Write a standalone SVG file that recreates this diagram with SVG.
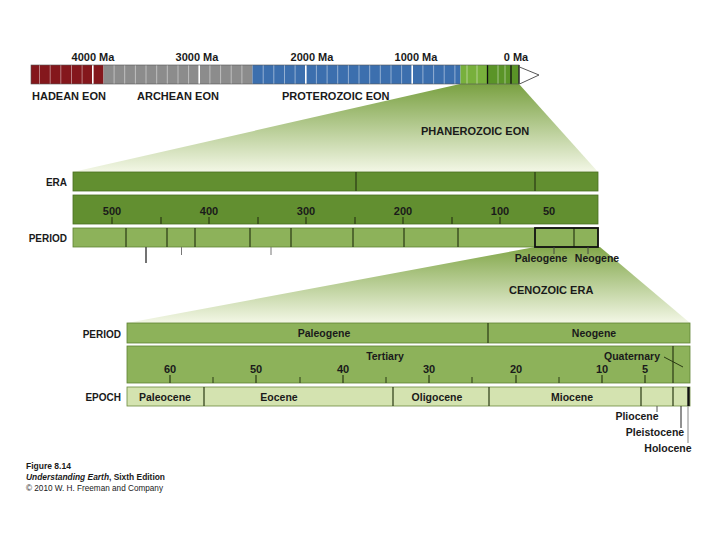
<svg xmlns="http://www.w3.org/2000/svg" width="720" height="540" viewBox="0 0 720 540">
<defs>
<linearGradient id="fun1" x1="0" y1="0" x2="0" y2="1">
<stop offset="0" stop-color="#7aa142"/>
<stop offset="1" stop-color="#f3f7e6"/>
</linearGradient>
<linearGradient id="fun2" x1="0" y1="0" x2="0" y2="1">
<stop offset="0" stop-color="#82a74a"/>
<stop offset="1" stop-color="#f3f7e6"/>
</linearGradient>
<style>
text{font-family:"Liberation Sans",Arial,sans-serif;font-weight:bold;fill:#1a1a1a}
.t11{font-size:11px}
.t10{font-size:10px}
.t105{font-size:10.5px}
.mid{text-anchor:middle}
.end{text-anchor:end}
.dk{fill:#628f30;stroke:#4a6e22;stroke-width:0.8}
.md{fill:#8db25a;stroke:#5f8233;stroke-width:0.8}
.lt{fill:#d4e3b0;stroke:#6c8a3e;stroke-width:0.8}
.div{stroke:#2a3a14;stroke-width:1.2}
.tick{stroke:#2a3a14;stroke-width:1.2}
.cap{font-size:8.5px;font-weight:normal}
</style>
</defs>
<rect width="720" height="540" fill="#ffffff"/>

<g id="funnels">
<polygon points="460,84 519,84 598,172 73,172" fill="url(#fun1)"/>
<polygon points="535,247 600,247 690,323 127,323" fill="url(#fun2)"/>
</g>

<g id="timeline-bar">
<rect x="31" y="65" width="72.5" height="19" fill="#84171c"/>
<rect x="103.5" y="65" width="149" height="19" fill="#8c8c8c"/>
<rect x="252.5" y="65" width="208" height="19" fill="#3c6fae"/>
<rect x="460.5" y="65" width="27" height="19" fill="#78b03c"/>
<rect x="487.5" y="65" width="31.5" height="19" fill="#5a9427"/>
<path d="M39.5 65V84M50.2 65V84M60.8 65V84M71.5 65V84M82.1 65V84M114.1 65V84M124.7 65V84M135.4 65V84M146 65V84M156.7 65V84M167.3 65V84M178 65V84M188.6 65V84M209.9 65V84M220.6 65V84M231.2 65V84M241.9 65V84M263.2 65V84M273.8 65V84M284.5 65V84M295.1 65V84M316.4 65V84M327.1 65V84M337.7 65V84M348.4 65V84M359 65V84M369.7 65V84M380.3 65V84M391 65V84M401.6 65V84M422.9 65V84M433.6 65V84M444.2 65V84M454.9 65V84M467 65V84M477 65V84M498 65V84M505 65V84" stroke="#ffffff" stroke-opacity="0.45" stroke-width="1"/>
<path d="M92.8 65V84M199.2 65V84M305.8 65V84M412.2 65V84" stroke="#ffffff" stroke-width="1.6"/>
<path d="M487.5 65V84M511 65V84M519 65V84" stroke="#111111" stroke-width="1.3"/>
<rect x="31" y="65" width="488" height="19" fill="none" stroke="#555555" stroke-width="0.6"/>
<polyline points="519.5,67 539,75 519.5,84" fill="none" stroke="#444444" stroke-width="0.9"/>
<text class="t11 mid" x="93" y="61">4000 Ma</text>
<text class="t11 mid" x="197" y="61">3000 Ma</text>
<text class="t11 mid" x="312" y="61">2000 Ma</text>
<text class="t11 mid" x="416" y="61">1000 Ma</text>
<text class="t11 mid" x="516" y="61">0 Ma</text>
<text class="t11" x="32" y="100">HADEAN EON</text>
<text class="t11" x="137" y="100">ARCHEAN EON</text>
<text class="t11" x="282" y="100">PROTEROZOIC EON</text>
<text class="t11" x="421" y="135">PHANEROZOIC EON</text>
</g>

<g id="phanerozoic">
<text class="t10 end" x="67" y="186">ERA</text>
<rect class="dk" x="73" y="172" width="525" height="19"/>
<path class="div" d="M356 172V191M535 172V191"/>
<rect class="dk" x="73" y="195" width="525" height="29" fill="#6a9834"/>
<text class="t11 mid" x="112" y="215">500</text>
<text class="t11 mid" x="209" y="215">400</text>
<text class="t11 mid" x="306" y="215">300</text>
<text class="t11 mid" x="403" y="215">200</text>
<text class="t11 mid" x="500" y="215">100</text>
<text class="t11 mid" x="549" y="215">50</text>
<path class="tick" d="M112 217V224M161 217V224M209 217V224M258 217V224M306 217V224M355 217V224M403 217V224M452 217V224M500 217V224"/>
<text class="t10 end" x="67" y="242">PERIOD</text>
<rect class="md" x="73" y="228" width="525" height="19"/>
<path class="div" d="M126 228V247M167 228V247M195 228V247M250 228V247M291 228V247M353 228V247M404 228V247M458 228V247M574 228V247"/>
<rect x="535" y="228" width="63" height="19" fill="none" stroke="#111111" stroke-width="1.8"/>
<path d="M146 247V263" stroke="#444444" stroke-width="1.5"/>
<path d="M181.5 247V255M271 247V255" stroke="#777777" stroke-width="1"/>
<path d="M554 247V254M588 247V254" stroke="#444444" stroke-width="1"/>
<text class="t105 mid" x="541" y="262">Paleogene</text>
<text class="t105 mid" x="597" y="262">Neogene</text>
<text class="t11" x="509" y="294">CENOZOIC ERA</text>
</g>

<g id="cenozoic">
<text class="t10 end" x="121" y="338">PERIOD</text>
<rect class="md" x="127" y="323" width="563" height="20"/>
<path class="div" d="M488 323V343"/>
<text class="t105 mid" x="324" y="337">Paleogene</text>
<text class="t105 mid" x="594" y="337">Neogene</text>
<rect class="md" x="127" y="346" width="563" height="37" fill="#92b65f"/>
<path class="div" d="M673 346V383"/>
<text class="t105 mid" x="385" y="360">Tertiary</text>
<text class="t105 mid" x="632" y="360">Quaternary</text>
<line x1="664" y1="357" x2="683" y2="367" stroke="#2a3a14" stroke-width="1"/>
<text class="t11 mid" x="170" y="373">60</text>
<text class="t11 mid" x="256" y="373">50</text>
<text class="t11 mid" x="343" y="373">40</text>
<text class="t11 mid" x="429" y="373">30</text>
<text class="t11 mid" x="516" y="373">20</text>
<text class="t11 mid" x="602" y="373">10</text>
<text class="t11 mid" x="645" y="373">5</text>
<path class="tick" d="M170 375V383M256 375V383M343 375V383M429 375V383M516 375V383M602 375V383M645 375V383"/>
<path d="M213 377V383M300 377V383M386 377V383M472 377V383M559 377V383" stroke="#2a3a14" stroke-width="1"/>
<text class="t10 end" x="121" y="401">EPOCH</text>
<rect class="lt" x="127" y="387" width="563" height="19"/>
<path class="div" d="M204 387V406M393 387V406M489 387V406M641 387V406M673 387V406"/>
<path d="M688.5 387V406" stroke="#111111" stroke-width="2.4"/>
<text class="t105 mid" x="165" y="401">Paleocene</text>
<text class="t105 mid" x="279" y="401">Eocene</text>
<text class="t105 mid" x="437" y="401">Oligocene</text>
<text class="t105 mid" x="572" y="401">Miocene</text>
<path d="M657 406V412" stroke="#555555" stroke-width="1"/>
<path d="M681 406V428" stroke="#222222" stroke-width="1"/>
<path d="M688 406V443" stroke="#888888" stroke-width="1"/>
<text class="t105 mid" x="637" y="420">Pliocene</text>
<text class="t105 mid" x="655" y="436">Pleistocene</text>
<text class="t105 mid" x="668" y="452">Holocene</text>
</g>

<g id="caption">
<text class="cap" x="26" y="469" style="font-weight:bold">Figure 8.14</text>
<text class="cap" x="26" y="480" textLength="139" lengthAdjust="spacingAndGlyphs"><tspan style="font-weight:bold;font-style:italic">Understanding Earth</tspan><tspan style="font-weight:bold">, Sixth Edition</tspan></text>
<text class="cap" x="26" y="491" textLength="137" lengthAdjust="spacingAndGlyphs">© 2010 W. H. Freeman and Company</text>
</g>
</svg>
